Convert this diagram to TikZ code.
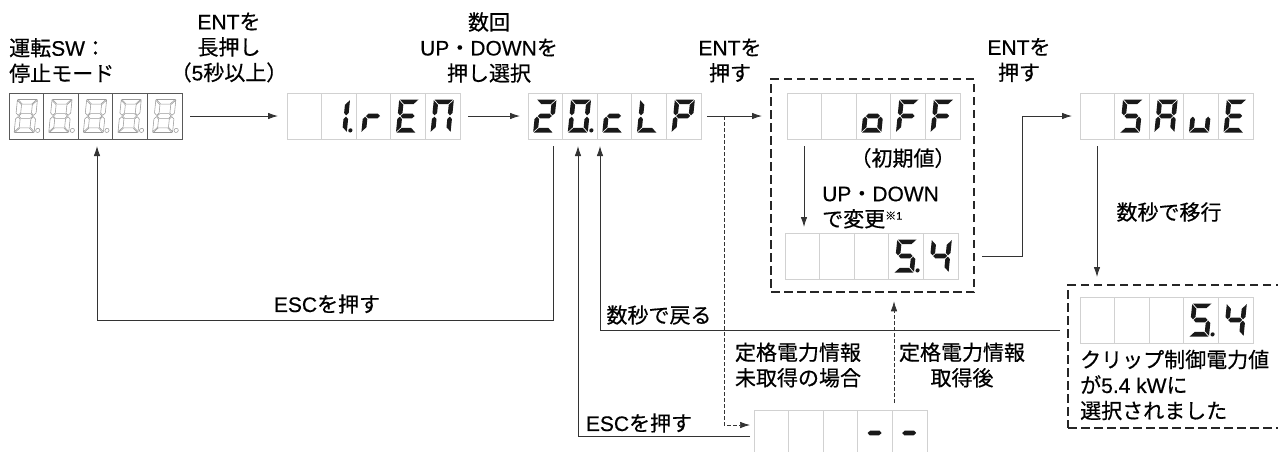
\documentclass[tikz,border=0pt]{standalone}
\usepackage{fontspec}
\setmainfont{Noto Sans CJK JP}[FakeBold=0.5]
\newfontfamily\latf{Liberation Sans}[FakeBold=0.5]
\newcommand\ltn[1]{{\latf #1}}
\usetikzlibrary{calc,arrows.meta}

% seven-segment pieces (local coords, y down, digit centred at origin)
\newcommand\sgA{\path[seg] (-9.3,-16.5) -- (9.3,-16.5) -- (4.7,-11.9) -- (-4.7,-11.9) -- cycle;}
\newcommand\sgD{\path[seg] (-9.3,16.5) -- (9.3,16.5) -- (4.7,11.9) -- (-4.7,11.9) -- cycle;}
\newcommand\sgF{\path[seg] (-10,-15.8) -- (-5.4,-11.2) -- (-5.4,-3.0) -- (-7.7,-0.7) -- (-10,-3.0) -- cycle;}
\newcommand\sgE{\path[seg] (-10,15.8) -- (-5.4,11.2) -- (-5.4,3.0) -- (-7.7,0.7) -- (-10,3.0) -- cycle;}
\newcommand\sgB{\path[seg] (10,-15.8) -- (5.4,-11.2) -- (5.4,-3.0) -- (7.7,-0.7) -- (10,-3.0) -- cycle;}
\newcommand\sgC{\path[seg] (10,15.8) -- (5.4,11.2) -- (5.4,3.0) -- (7.7,0.7) -- (10,3.0) -- cycle;}
\newcommand\sgG{\path[seg] (-7.0,0) -- (-4.7,-2.3) -- (4.7,-2.3) -- (7.0,0) -- (4.7,2.3) -- (-4.7,2.3) -- cycle;}
\newcommand\sgDP{\path[seg] (13.4,14.4) circle[radius=2.1];}
\newcommand\eight{\sgA\sgB\sgC\sgD\sgE\sgF\sgG\sgDP}
\newcommand\dgt[3]{\begin{scope}[shift={(#1,#2)},xslant=0.1]#3\end{scope}}
\newcommand\disp[8]{%
  \node[name=#1,anchor=north west,minimum width=173pt,minimum height=46pt,inner sep=0pt,outer sep=0pt] at (#2,#3) {};
  \foreach \i in {0,...,4}{\draw[cellbox] (#2+\i*34.6,#3) rectangle ++(34.6,46);}
  \dgt{#2+16.8}{#3+23}{#4}
  \dgt{#2+51.4}{#3+23}{#5}
  \dgt{#2+86.0}{#3+23}{#6}
  \dgt{#2+120.6}{#3+23}{#7}
  \dgt{#2+155.2}{#3+23}{#8}
}

\tikzset{
  seg/.style={fill=black!90},
  cellbox/.style={draw=black!18,line width=0.9pt},
  ln/.style={draw=black!80,line width=0.85pt},
  arr/.style={ln,-{Latex[length=10pt,width=6.5pt]}},
  darr/.style={arr,dash pattern=on 4pt off 2pt,line width=0.7pt},
  dbox/.style={draw=black!85,line width=2.3pt,dash pattern=on 8.5pt off 4.5pt,inner sep=0pt},
  lbl/.style={font=\fontsize{21}{25.5}\selectfont,align=center,inner sep=0pt},
  lbll/.style={lbl,align=left},
}

\begin{document}
\begin{tikzpicture}[x=1pt,y=-1pt]
\path[use as bounding box,clip] (0,0) rectangle (1278,451);

% dashed groups
\node[dbox,name=box1,anchor=north west,minimum width=203pt,minimum height=213pt] at (770,78) {};
\node[dbox,name=box2,anchor=north west,minimum width=225pt,minimum height=143pt] at (1067,284) {};

% displays
\begin{scope}[seg/.style={draw=black!40,line width=0.55pt,fill=none},cellbox/.style={draw=black!65,line width=0.9pt}]
\disp{d1}{9}{93}{\eight}{\eight}{\eight}{\eight}{\eight}
\end{scope}
\disp{d2}{287}{93}{}{\sgB\sgC\sgDP}{\sgE\sgG}{\sgA\sgD\sgE\sgF\sgG}{\sgA\sgB\sgC\sgE\sgF}
\disp{d3}{528}{93}{\sgA\sgB\sgG\sgE\sgD}{\sgA\sgB\sgC\sgD\sgE\sgF\sgDP}{\sgG\sgE\sgD}{\sgF\sgE\sgD}{\sgA\sgB\sgF\sgG\sgE}
\disp{d4}{787}{93}{}{}{\sgC\sgD\sgE\sgG}{\sgA\sgF\sgG\sgE}{\sgA\sgF\sgG\sgE}
\disp{d5}{785}{233}{}{}{}{\sgA\sgF\sgG\sgC\sgD\sgDP}{\sgF\sgG\sgB\sgC}
\disp{d6}{1080}{93}{}{\sgA\sgF\sgG\sgC\sgD}{\sgA\sgB\sgC\sgE\sgF\sgG}{\sgC\sgD\sgE}{\sgA\sgD\sgE\sgF\sgG}
\disp{d7}{1080}{297}{}{}{}{\sgA\sgF\sgG\sgC\sgD\sgDP}{\sgF\sgG\sgB\sgC}
\disp{d8}{754}{410}{}{}{}{\sgG}{\sgG}

% labels
\node[lbll,name=t1,anchor=west] at (9,60.5) {運転\ltn{SW}：\\停止モード};
\node[lbl,name=t2] at (229,47.5) {\ltn{ENT}を\\長押し\\（\ltn{5}秒以上）};
\node[lbl,name=t3] at (489,47.5) {数回\\\ltn{UP}・\ltn{DOWN}を\\押し選択};
\node[lbl,name=t4] at (730,60.5) {\ltn{ENT}を\\押す};
\node[lbl,name=t5] at (1019,60) {\ltn{ENT}を\\押す};
\node[lbl,name=t6] at (903,158) {（初期値）};
\node[lbll,name=t7,anchor=west] at (822,207.5) {\ltn{UP}・\ltn{DOWN}\\で変更\raisebox{7pt}{\fontsize{11}{11}\selectfont ※\ltn{1}}};
\node[lbl,name=t8] at (1169,212) {数秒で移行};
\node[lbl,name=t9] at (327,304) {\ltn{ESC}を押す};
\node[lbl,name=t10] at (659,315) {数秒で戻る};
\node[lbl,name=t11] at (798,365) {定格電力情報\\未取得の場合};
\node[lbl,name=t12] at (962,365) {定格電力情報\\取得後};
\node[lbl,name=t13] at (639,423) {\ltn{ESC}を押す};
\node[lbll,name=t14,anchor=west] at (1080,385) {クリップ制御電力値\\が\ltn{5.4 kW}に\\選択されました};

% connectors
\draw[arr,shorten <=8pt,shorten >=9pt] (d1) -- (d2);
\draw[arr,shorten <=8pt,shorten >=8pt] (d2) -- (d3);
\draw[arr,shorten <=6pt,shorten >=8pt] (d3.east) -- (d3.east -| box1.west);
\coordinate (br) at ($(d3.east)+(23,0)$);
\coordinate (d8d) at ($(d8.north west)+(0,15)$);
\draw[darr,shorten >=4pt] (br) |- (d8d);
\coordinate (d4b) at ($(d4.south west)+(17,0)$);
\draw[arr,shorten <=7pt,shorten >=6pt] (d4b) -- (d4b |- d5.north);
\coordinate (d5r) at (box1.east |- d5.east);
\draw[arr,shorten <=7pt,shorten >=8pt] (d5r) -- ++(47,0) |- (d6.west);
\coordinate (d6b) at ($(d6.south west)+(17,0)$);
\draw[arr,shorten <=7pt,shorten >=7pt] (d6b) -- (d6b |- box2.north);
\coordinate (rt) at ($(box2.north west)+(0,46)$);
\coordinate (d3c) at ($(d3.south west)+(72,0)$);
\draw[arr,shorten <=7pt,shorten >=7pt] (rt) -| (d3c);
\coordinate (d3a) at ($(d3.south west)+(25,0)$);
\coordinate (d1c) at ($(d1.south west)+(88,0)$);
\draw[arr,shorten <=7pt,shorten >=7pt] (d3a) -- ++(0,181) -| (d1c);
\coordinate (d3b) at ($(d3.south west)+(50,0)$);
\coordinate (d8e) at ($(d8.north west)+(0,26)$);
\draw[arr,shorten <=4pt,shorten >=7pt] (d8e) -| (d3b);
\coordinate (d8u) at ($(d8.north west)+(140,0)$);
\draw[darr,shorten <=7pt,shorten >=8pt] (d8u) -- (d8u |- box1.south);
\end{tikzpicture}
\end{document}
